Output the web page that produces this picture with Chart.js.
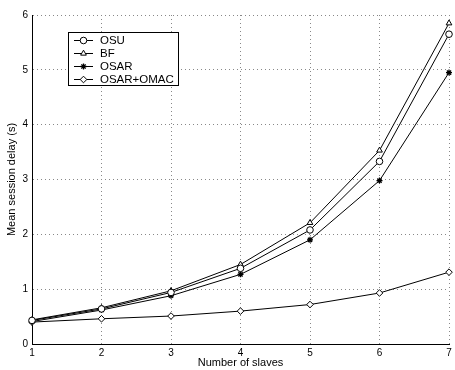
<!DOCTYPE html>
<html>
<head>
<meta charset="utf-8">
<script src="https://cdn.jsdelivr.net/npm/chart.js@4/dist/chart.umd.min.js"></script>
<style>
  html, body { margin: 0; padding: 0; background: #fff; }
  #wrap { width: 455px; height: 370px; }
</style>
</head>
<body>
<div id="wrap"><canvas id="chartCanvas" width="455" height="370"></canvas></div>
<script>
// number of slaves
var slaves = [1, 2, 3, 4, 5, 6, 7];

// mean session delay (s)
var osu  = [0.43, 0.64, 0.94, 1.38, 2.08, 3.33, 5.65];
var bf   = [0.44, 0.66, 0.97, 1.45, 2.21, 3.53, 5.85];
var osar = [0.41, 0.62, 0.88, 1.27, 1.90, 2.98, 4.95];
var omac = [0.40, 0.46, 0.51, 0.60, 0.72, 0.93, 1.31];

var seriesNames = ['OSU', 'BF', 'OSAR', 'OSAR+OMAC'];
var markers = ['circle', 'triangle', 'star', 'rectRot'];

var xTicks = [1, 2, 3, 4, 5, 6, 7];
var yTicks = [0, 1, 2, 3, 4, 5, 6];

function pts(vals) {
	var out = [];
	for (var i in slaves) {
		out.push({x: slaves[i], y: vals[i]});
	}
	return out;
}

var allSeries = [osu, bf, osar, omac];
var datasets = [];
for (var s = 0; s < allSeries.length; s++) {
	datasets.push({
		label: seriesNames[s],
		data: pts(allSeries[s]),
		borderColor: '#000',
		backgroundColor: '#fff',
		borderWidth: 1,
		pointStyle: markers[s],
		pointRadius: markers[s] == 'star' ? 3 : 3.3,
		pointBorderWidth: markers[s] == 'star' ? 1.3 : 1,
		pointBorderColor: '#000',
		pointBackgroundColor: '#fff',
		tension: 0,
		clip: false
	});
}

// legend box drawn inside the plot, matlab style
var boxLegend = {
	id: 'boxLegend',
	afterDraw: function(chart) {
		var ctx = chart.ctx;
		var a = chart.chartArea;
		var x0 = a.left + 36, y0 = a.top + 17, w = 110, h = 53;
		ctx.save();
		ctx.fillStyle = '#fff';
		ctx.fillRect(x0, y0, w, h);
		ctx.strokeStyle = '#000';
		ctx.lineWidth = 1;
		ctx.strokeRect(x0 + 0.5, y0 + 0.5, w, h);
		ctx.font = '11.5px "Liberation Sans", Arial, sans-serif';
		ctx.textBaseline = 'middle';
		ctx.fillStyle = '#000';
		chart.data.datasets.forEach(function(ds, i) {
			var yy = y0 + 8 + i * 13;
			ctx.beginPath();
			ctx.moveTo(x0 + 6, yy + 0.5);
			ctx.lineTo(x0 + 25, yy + 0.5);
			ctx.stroke();
			ctx.fillStyle = '#fff';
			ctx.strokeStyle = '#000';
			ctx.lineWidth = ds.pointBorderWidth;
			Chart.helpers.drawPoint(ctx, {pointStyle: ds.pointStyle, radius: ds.pointRadius, borderWidth: ds.pointBorderWidth}, x0 + 15.5, yy + 0.5);
			ctx.lineWidth = 1;
			ctx.fillStyle = '#000';
			ctx.fillText(ds.label, x0 + 32, yy + 1);
		});
		ctx.restore();
	}
};

var ctx = document.getElementById('chartCanvas');

var chart = new Chart(ctx, {
	type: 'line',
	data: { datasets: datasets },
	options: {
		responsive: false,
		animation: false,
		layout: { padding: { top: 15, right: 6, left: 0, bottom: 0 } },
		plugins: { legend: { display: false }, tooltip: { enabled: false } },
		scales: {
			x: {
				type: 'linear',
				min: 1, max: 7,
				afterBuildTicks: function(scale) { scale.ticks = xTicks.map(function(v){ return {value: v}; }); },
				afterFit: function(scale) { scale.height = 26; },
				ticks: { color: '#000', padding: 3, font: { size: 10, family: '"Liberation Sans", Arial' } },
				grid: { color: '#888', drawTicks: false, lineWidth: 1 },
				border: { display: true, color: '#000', width: 1, dash: [1, 3] },
				title: { display: true, text: 'Number of slaves', color: '#000', padding: 0,
					font: { size: 11, family: '"Liberation Sans", Arial' } }
			},
			y: {
				min: 0, max: 6,
				afterBuildTicks: function(scale) { scale.ticks = yTicks.map(function(v){ return {value: v}; }); },
				afterFit: function(scale) { scale.width = 32; },
				ticks: { color: '#000', padding: 4, font: { size: 10, family: '"Liberation Sans", Arial' } },
				grid: { color: '#888', drawTicks: false, lineWidth: 1 },
				border: { display: true, color: '#000', width: 1, dash: [1, 3] },
				title: { display: true, text: 'Mean session delay (s)', color: '#000', padding: { top: 5, bottom: 0 },
					font: { size: 11, family: '"Liberation Sans", Arial' } }
			}
		}
	},
	plugins: [boxLegend]
});
</script>
</body>
</html>
